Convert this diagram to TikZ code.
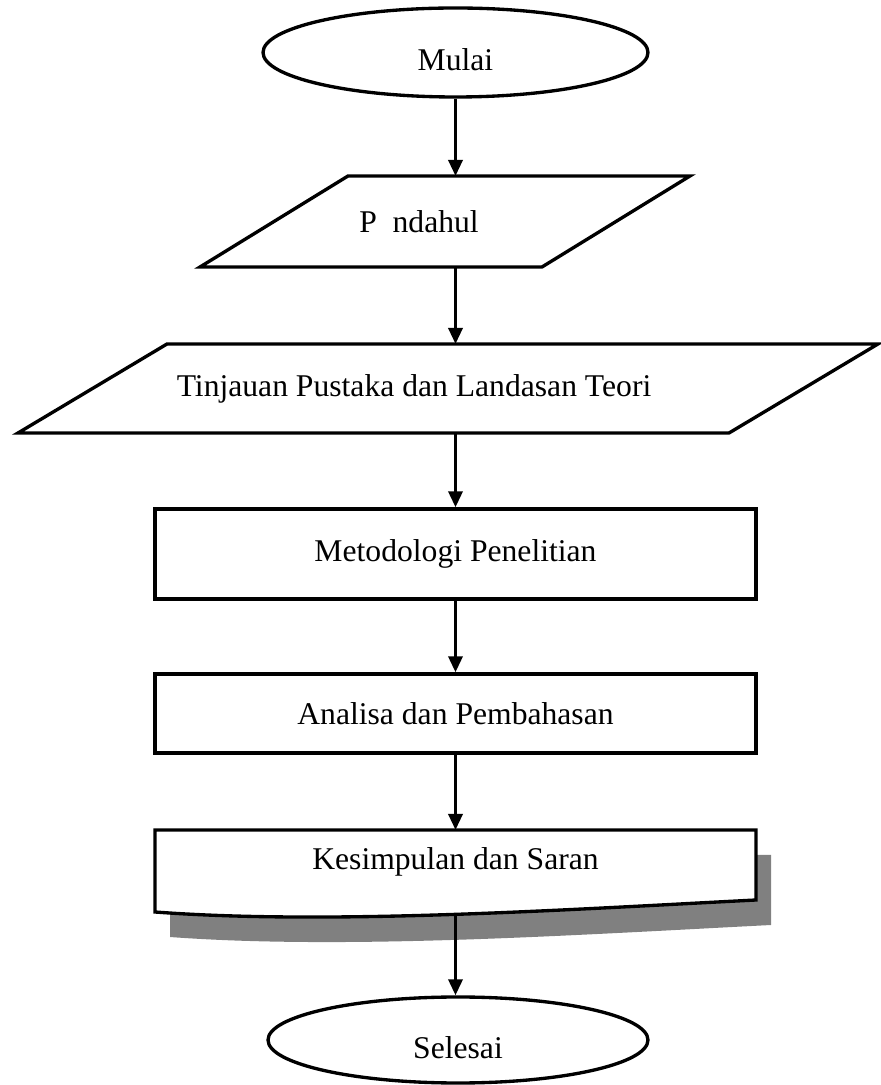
\documentclass[tikz,border=0pt]{standalone}
\usepackage{fontspec}
\setmainfont{Liberation Serif}
\usetikzlibrary{arrows.meta,positioning,calc,shapes.geometric}

% slanted frame round a text node, #2 = horizontal slant
\newcommand\ioframe[2]{%
  \draw[line width=1.9pt] ($(#1.north west)+(#2,0)$) -- (#1.north east)
    -- ($(#1.south east)-(#2,0)$) -- (#1.south west) -- cycle;}

\begin{document}
\begin{tikzpicture}[
  base/.style={line width=1.9pt,font=\fontsize{18}{21}\selectfont,align=center,inner sep=2pt},
  term/.style={base,draw,ellipse,minimum width=7.7cm,minimum height=1.78cm,
               text height=0.72cm,text depth=0pt},
  io/.style={base,rectangle,outer sep=0pt},
  box/.style={base,draw,rectangle,minimum width=12.02cm},
  edge/.style={-{Triangle[length=3.2mm,width=2.8mm]},line width=1.9pt},
  shade/.style={fill=black!50},
  doc/.style={draw,fill=white,line width=1.9pt}
]
  \useasboundingbox (0,0) rectangle (17.6,21.7);

  \node[term] (mulai) at (9.11,20.65) {Mulai};
  \node[io,minimum width=9.8cm,minimum height=1.82cm] (pend) at (8.90,17.27)
    {P\ \ ndahul\hspace*{1.04cm}};
  \ioframe{pend}{2.96}
  \node[io,minimum width=17.2cm,minimum height=1.78cm] (tinj) at (8.96,13.93)
    {Tinjauan Pustaka dan Landasan Teori\hspace*{1.36cm}};
  \ioframe{tinj}{2.98}
  \node[box,minimum height=1.8cm] (meto) at (9.11,10.62) {Metodologi Penelitian};
  \node[box,minimum height=1.58cm] (anal) at (9.11,7.43) {Analisa dan Pembahasan};

  % document shape with its shadow
  \begin{scope}[shift={(3.10,5.10)}]
    \fill[shade,shift={(0.30,-0.5)}] (0,0) -- (12.02,0) -- (12.02,-1.4)
      .. controls (8.1,-1.6) and (3.5,-1.9) .. (0,-1.64) -- cycle;
    \draw[doc] (0,0) -- (12.02,0) -- (12.02,-1.4)
      .. controls (8.1,-1.6) and (3.5,-1.9) .. (0,-1.64) coordinate[pos=0.5] (kesib) -- cycle;
  \end{scope}
  \node[box,draw=none,minimum height=1.2cm,anchor=north] (kesi) at (9.11,5.10)
    {Kesimpulan dan Saran};

  \node[term,minimum width=7.6cm,minimum height=1.72cm] (sele) at (9.16,0.90) {Selesai};

  \draw[edge] (mulai) -- (mulai |- pend.north);
  \draw[edge] (pend.south -| mulai) -- (mulai |- tinj.north);
  \draw[edge] (tinj.south -| meto) -- (meto);
  \draw[edge] (meto) -- (anal);
  \draw[edge] (anal) -- (kesi);
  \draw[edge] (kesi.south |- kesib) -- (kesi.south |- sele.north);
\end{tikzpicture}
\end{document}
